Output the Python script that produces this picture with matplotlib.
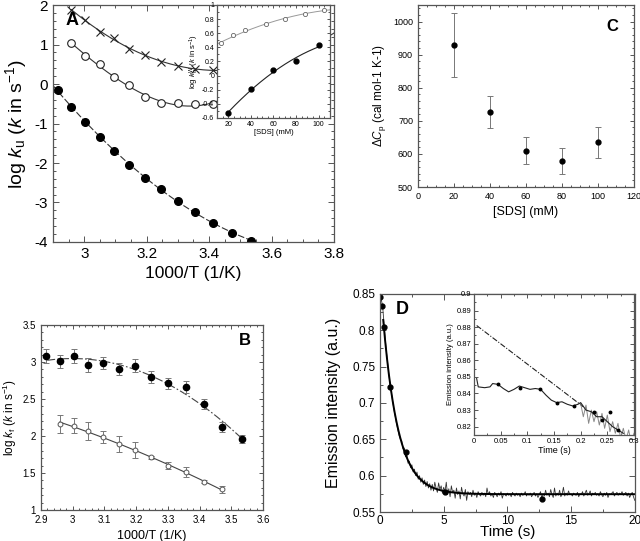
import numpy as np
import matplotlib
matplotlib.use("Agg")
import matplotlib.pyplot as plt
from matplotlib.ticker import AutoMinorLocator, FormatStrFormatter, MultipleLocator

plt.rcParams['font.family'] = ['Liberation Sans', 'DejaVu Sans']
plt.rcParams['mathtext.fontset'] = 'custom'
plt.rcParams['mathtext.rm'] = 'Liberation Sans'
plt.rcParams['mathtext.it'] = 'Liberation Sans:italic'
plt.rcParams['axes.unicode_minus'] = False

FRAME = '#555555'

# ---- panel A : unfolding rates vs 1000/T
a_x_cross = [2.959, 3.003, 3.049, 3.096, 3.145, 3.195, 3.247, 3.300, 3.356, 3.413]
a_y_cross = [1.88, 1.62, 1.31, 1.16, 0.89, 0.74, 0.57, 0.45, 0.38, 0.35]
a_x_open = [2.959, 3.003, 3.049, 3.096, 3.145, 3.195, 3.247, 3.300, 3.356, 3.413]
a_y_open = [1.03, 0.71, 0.51, 0.17, -0.03, -0.34, -0.49, -0.49, -0.51, -0.50]
a_x_fill = [2.915, 2.959, 3.003, 3.049, 3.096, 3.145, 3.195, 3.247, 3.300, 3.356,
            3.413, 3.472, 3.534]
a_y_fill = [-0.15, -0.58, -0.96, -1.34, -1.70, -2.04, -2.37, -2.67, -2.97, -3.25,
            -3.51, -3.76, -3.97]

# inset of A : log k vs [SDS]
ai_sds_open = [14, 24.5, 35, 53, 70, 88, 105]
ai_k_open = [0.46, 0.57, 0.64, 0.73, 0.80, 0.87, 0.93]
ai_sds_fill = [20, 40, 60, 80, 100]
ai_k_fill = [-0.53, -0.19, 0.08, 0.20, 0.43]

# ---- panel B : folding rates vs 1000/T
b_x_fill = [2.915, 2.959, 3.003, 3.049, 3.096, 3.145, 3.195, 3.247, 3.300, 3.356,
            3.413, 3.472, 3.534]
b_y_fill = [3.08, 3.01, 3.08, 2.96, 2.99, 2.91, 2.95, 2.80, 2.71, 2.66, 2.43, 2.12, 1.96]
b_e_fill = [0.09, 0.09, 0.09, 0.09, 0.08, 0.08, 0.09, 0.08, 0.08, 0.08, 0.07, 0.07, 0.06]
b_x_open = [2.959, 3.003, 3.049, 3.096, 3.145, 3.195, 3.247, 3.300, 3.356, 3.413, 3.472]
b_y_open = [2.16, 2.14, 2.07, 1.99, 1.89, 1.81, 1.71, 1.60, 1.51, 1.38, 1.28]
b_e_open = [0.12, 0.10, 0.12, 0.08, 0.11, 0.11, 0.02, 0.05, 0.07, 0.02, 0.05]

# ---- panel C : heat capacity vs [SDS]
c_sds = [20, 40, 60, 80, 100]
c_dcp = [930, 727, 610, 578, 635]
c_err = [97, 48, 41, 39, 46]

# ---- panel D : stopped-flow trace, 0.1 s steps
d_trace = [
    .846, .842, .834, .812, .790, .771, .754, .738, .724, .713,
    .701, .690, .681, .671, .663, .655,
    .650, .648, .637, .638, .626, .629, .617, .620, .611, .615,
    .605, .609, .600, .605, .595, .600, .591, .597, .588, .594,
    .585, .592, .583, .589, .580,
    .588, .579, .591, .583, .577, .590, .581, .586, .576, .584,
    .578, .591, .574, .582, .571, .586, .577, .580, .569, .583,
    .574, .579, .568, .584, .575, .572, .581, .566, .578, .574,
    .577, .571, .580, .573, .576, .570, .578, .574, .572, .577,
    .573, .576, .571, .583, .574, .578, .572, .575, .570, .577,
    .574, .571, .576, .573, .578, .569, .575, .574, .572, .576,
    .573, .575, .571, .577, .574, .572, .576, .573, .575, .571,
    .576, .573, .574, .578, .572, .575, .573, .576, .571, .574,
    .577, .572, .575, .570, .574, .578, .569, .575, .572, .580,
    .573, .576, .571, .581, .574, .570, .583, .572, .576, .573,
    .580, .571, .575, .584, .572, .576, .573, .579, .574, .575,
    .572, .576, .574, .573, .577, .571, .575, .574, .578, .572,
    .576, .580, .573, .575, .579, .572, .576, .574, .577, .573,
    .575, .572, .578, .574, .571, .576, .573, .577, .570, .575,
    .574, .576, .578, .572, .575, .577, .573, .576, .574, .578,
    .573, .575, .577, .572, .576, .570, .574, .577, .571, .566]
d_mark_t = [0.03, 0.13, 0.29, 0.81, 2.04, 5.1, 12.7]
d_mark_y = [0.8455, 0.834, 0.804, 0.722, 0.632, 0.577, 0.568]

# inset of D : first 0.3 s
di_t_black = [0.005, 0.008, 0.02, 0.03, 0.035, 0.045, 0.055, 0.065, 0.075, 0.085,
              0.095, 0.105, 0.115, 0.125, 0.135, 0.145, 0.155, 0.165, 0.175, 0.185,
              0.195, 0.2, 0.21, 0.22, 0.23, 0.24, 0.25, 0.26, 0.27, 0.28]
di_y_black = [0.849, 0.844, 0.8435, 0.844, 0.846, 0.8455, 0.843, 0.841, 0.8425, 0.8445,
              0.8435, 0.8425, 0.843, 0.8425, 0.839, 0.836, 0.8345, 0.835, 0.8335, 0.8325,
              0.8335, 0.8345, 0.830, 0.829, 0.826, 0.826, 0.823, 0.820, 0.818, 0.816]
di_t_grey = [0.2, 0.205, 0.21, 0.215, 0.22, 0.225, 0.23, 0.235, 0.24, 0.245, 0.25,
             0.255, 0.26, 0.265, 0.27, 0.275, 0.28, 0.285, 0.29, 0.295, 0.3]
di_y_grey = [0.834, 0.826, 0.833, 0.822, 0.830, 0.823, 0.829, 0.821, 0.828, 0.819, 0.827,
             0.817, 0.823, 0.816, 0.822, 0.813, 0.819, 0.812, 0.818, 0.810, 0.816]
di_fit_t = [0.005, 0.205]
di_fit_y = [0.881, 0.832]
di_mark_t = [0.045, 0.087, 0.123, 0.155, 0.188, 0.225, 0.24, 0.255, 0.27]
di_mark_y = [0.8455, 0.8435, 0.843, 0.8345, 0.8325, 0.829, 0.824, 0.829, 0.818]


def style(ax, fs, xminor, yminor, major=4, minor=2):
    for s in ax.spines.values():
        s.set_color(FRAME)
        s.set_linewidth(0.9)
    ax.tick_params(which='both', direction='in', top=True, right=True,
                   labelsize=fs, color=FRAME, width=0.7)
    ax.tick_params(which='major', length=major)
    ax.tick_params(which='minor', length=minor)
    ax.xaxis.set_minor_locator(AutoMinorLocator(xminor))
    ax.yaxis.set_minor_locator(AutoMinorLocator(yminor))
    ax.xaxis.set_major_formatter(FormatStrFormatter('%g'))
    ax.yaxis.set_major_formatter(FormatStrFormatter('%g'))


def fit_curve(x, y, lo, hi, deg=2):
    c = np.polyfit(x, y, deg)
    xs = np.linspace(lo, hi, 200)
    return xs, np.polyval(c, xs)


fig = plt.figure(figsize=(6.4, 5.41), dpi=100)

# ================= A
axA = fig.add_axes([0.0828, 0.5527, 0.439, 0.438])
xs, ys = fit_curve(a_x_cross, a_y_cross, 2.959, 3.8)
axA.plot(xs, ys, color='#333333', lw=0.8)
xs, ys = fit_curve(a_x_open, a_y_open, 2.959, 3.8, deg=3)
axA.plot(xs, ys, color='#333333', lw=0.8)
xs, ys = fit_curve(a_x_fill, a_y_fill, 2.9, 3.62)
axA.plot(xs, ys, color='#333333', lw=0.8, dashes=(6, 2))
axA.plot(a_x_cross, a_y_cross, 'x', color='#222222', ms=6, mew=0.8)
axA.plot(a_x_open, a_y_open, 'o', mfc='white', mec='#222222', ms=5.5, mew=0.8)
axA.plot(a_x_fill, a_y_fill, 'o', color='black', ms=5.5)
axA.set_xlim(2.9, 3.8)
axA.set_ylim(-4, 2)
axA.xaxis.set_major_locator(MultipleLocator(0.2))
axA.yaxis.set_major_locator(MultipleLocator(1))
style(axA, 11, 4, 5)
axA.set_xlabel('1000/T (1/K)', fontsize=12.5)
axA.set_ylabel(r'log $k_{\rm u}$ ($k$ in s$^{-1}$)', fontsize=14, labelpad=4)
axA.text(0.043, 0.935, 'A', transform=axA.transAxes, fontsize=13, fontweight='bold',
         va='center')

axAi = fig.add_axes([0.339, 0.7819, 0.1766, 0.2089])
axAi.set_facecolor('white')
xs, ys = fit_curve(ai_sds_open, ai_k_open, 10, 110)
axAi.plot(xs, ys, color='#999999', lw=0.7)
xs, ys = fit_curve(ai_sds_fill, ai_k_fill, 20, 100)
axAi.plot(xs, ys, color='#222222', lw=0.8)
axAi.plot(ai_sds_open, ai_k_open, 'o', mfc='white', mec='#666666', ms=3, mew=0.6)
axAi.plot(ai_sds_fill, ai_k_fill, 'o', color='black', ms=3.5)
axAi.set_xlim(10, 110)
axAi.set_ylim(-0.6, 1.0)
axAi.xaxis.set_major_locator(MultipleLocator(20))
axAi.yaxis.set_major_locator(MultipleLocator(0.2))
style(axAi, 5, 4, 2, major=2.5, minor=1.5)
axAi.tick_params(pad=2)
axAi.set_xlabel('[SDS] (mM)', fontsize=5.5, labelpad=1)
axAi.set_ylabel(r'log $k_{\rm u}^{\rm W}$ ($k$ in s$^{-1}$)', fontsize=5.5, labelpad=1)

# ================= B
axB = fig.add_axes([0.0641, 0.0573, 0.3469, 0.342])
xs, ys = fit_curve(b_x_fill, b_y_fill, 2.92, 3.535)
axB.plot(xs, ys, color='#444444', lw=0.8, dashes=(7, 2, 1.5, 2))
xs, ys = fit_curve(b_x_open, b_y_open, 2.959, 3.472)
axB.plot(xs, ys, color='#444444', lw=0.8)
axB.errorbar(b_x_fill, b_y_fill, yerr=b_e_fill, fmt='o', color='black', ms=4.5,
             ecolor='#777777', elinewidth=0.7, capsize=2, capthick=0.7)
axB.errorbar(b_x_open, b_y_open, yerr=b_e_open, fmt='o', mfc='white', mec='#555555',
             ms=3.5, mew=0.7, ecolor='#777777', elinewidth=0.7, capsize=2, capthick=0.7)
axB.set_xlim(2.9, 3.6)
axB.set_ylim(1, 3.5)
axB.xaxis.set_major_locator(MultipleLocator(0.1))
axB.yaxis.set_major_locator(MultipleLocator(0.5))
style(axB, 7, 5, 5, major=3, minor=1.5)
axB.set_xlabel('1000/T (1/K)', fontsize=9)
axB.set_ylabel(r'log $k_{\rm f}$ ($k$ in s$^{-1}$)', fontsize=8.5, labelpad=3)
axB.text(0.92, 0.915, 'B', transform=axB.transAxes, fontsize=12, fontweight='bold',
         ha='center', va='center')

# ================= C
axC = fig.add_axes([0.653, 0.6543, 0.3375, 0.3364])
axC.errorbar(c_sds, c_dcp, yerr=c_err, fmt='o', color='black', ms=3.5,
             ecolor='#777777', elinewidth=0.7, capsize=2, capthick=0.7)
axC.set_xlim(0, 120)
axC.set_ylim(500, 1050)
axC.xaxis.set_major_locator(MultipleLocator(20))
axC.yaxis.set_major_locator(MultipleLocator(100))
axC.set_yticks([500, 600, 700, 800, 900, 1000])
style(axC, 6.5, 4, 5, major=3, minor=1.5)
axC.set_xlabel('[SDS] (mM)', fontsize=9)
axC.set_ylabel(r'$\Delta C_{\rm p}$ (cal mol-1 K-1)', fontsize=8.5)
axC.text(0.90, 0.88, 'C', transform=axC.transAxes, fontsize=12, fontweight='bold',
         ha='center', va='center')

# ================= D
t = np.linspace(0, 20, len(d_trace))
trace = np.array(d_trace)
plateau = trace[t > 10].mean()
m = (t >= 0.3) & (t <= 3.0)
k, b = np.polyfit(t[m], np.log(trace[m] - plateau), 1)
tf = np.linspace(0.25, 20, 400)
axD = fig.add_axes([0.5938, 0.0536, 0.398, 0.403])
axD.plot(t, trace, color='#333333', lw=0.6)
axD.plot(tf, plateau + np.exp(b + k * tf), color='black', lw=1.4)
axD.plot(d_mark_t, d_mark_y, 'o', color='black', ms=3.5)
axD.set_xlim(0, 20)
axD.set_ylim(0.55, 0.85)
axD.xaxis.set_major_locator(MultipleLocator(5))
axD.yaxis.set_major_locator(MultipleLocator(0.05))
style(axD, 8.5, 2, 2, major=4, minor=2)
axD.tick_params(axis='x', pad=2)
axD.set_xlabel('Time (s)', fontsize=11, labelpad=-1)
axD.set_ylabel('Emission intensity (a.u.)', fontsize=11.5, labelpad=8)
axD.text(0.06, 0.93, 'D', transform=axD.transAxes, fontsize=13, fontweight='bold',
         va='center')

axDi = fig.add_axes([0.7406, 0.196, 0.25, 0.2606])
axDi.set_facecolor('white')
axDi.plot(di_fit_t, di_fit_y, color='#222222', lw=0.8, dashes=(5, 1.5, 1, 1.5))
axDi.plot(di_t_grey, di_y_grey, color='#888888', lw=0.7)
axDi.plot(di_t_black, di_y_black, color='#222222', lw=0.8)
axDi.plot(di_mark_t, di_mark_y, 'o', color='black', ms=1.8)
axDi.set_xlim(0, 0.3)
axDi.set_ylim(0.815, 0.9)
axDi.xaxis.set_major_locator(MultipleLocator(0.05))
axDi.yaxis.set_major_locator(MultipleLocator(0.01))
style(axDi, 5.5, 2, 2, major=3, minor=1.5)
axDi.tick_params(pad=2)
axDi.set_xlabel('Time (s)', fontsize=6.5, labelpad=1)
axDi.set_ylabel('Emission intensity (a.u.)', fontsize=5.5, labelpad=2)

fig.savefig('out.png', dpi=100)
